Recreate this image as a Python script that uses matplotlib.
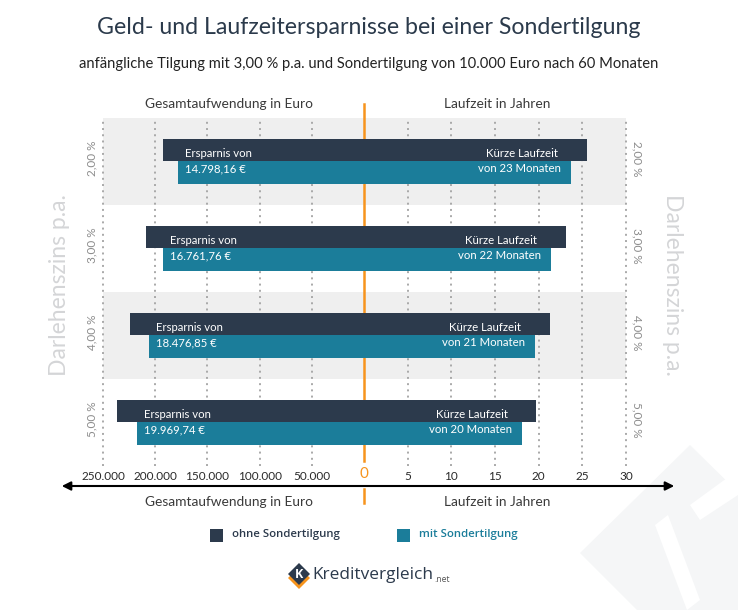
import matplotlib
matplotlib.use('Agg')
import matplotlib.pyplot as plt
from matplotlib.patches import Polygon, Rectangle, FancyArrowPatch
from matplotlib.lines import Line2D

# ---------------- data ----------------
rates = ['2,00 %', '3,00 %', '4,00 %', '5,00 %']
cost_ohne = [192700, 209100, 224100, 236900]   # Gesamtaufwendung ohne Sondertilgung (Euro)
cost_mit = [177900, 192200, 205600, 217100]    # Gesamtaufwendung mit Sondertilgung (Euro)
term_ohne = [25.57, 23.17, 21.25, 19.69]       # Laufzeit ohne Sondertilgung (Jahre)
term_mit = [23.70, 21.37, 19.53, 18.04]        # Laufzeit mit Sondertilgung (Jahre)
savings = ['14.798,16 €', '16.761,76 €', '18.476,85 €', '19.969,74 €']
months = [23, 22, 21, 20]
euro_ticks = [250000, 200000, 150000, 100000, 50000]
euro_labels = ['250.000', '200.000', '150.000', '100.000', '50.000']
year_ticks = [5, 10, 15, 20, 25, 30]
year_labels = ['5', '10', '15', '20', '25', '30']

# ---------------- style ----------------
FONT = 'Lato'
plt.rcParams['font.family'] = [FONT, 'DejaVu Sans']
DARK = '#2c3a4c'
TEAL = '#1b7d9a'
ORANGE = '#f7941d'
BAND = '#efefef'
GRID = '#a9a9a9'

W, H = 738, 610
def fx(px): return px / W
def fy(py): return 1 - py / H

fig = plt.figure(figsize=(W / 100, H / 100), dpi=100)
fig.patch.set_facecolor('white')

# watermark (faint logo, bottom right)
wm = Polygon([(fx(690), fy(445)), (fx(800), fy(553)), (fx(690), fy(663)), (fx(580), fy(553))],
             closed=True, transform=fig.transFigure, facecolor='#f5f6f7', edgecolor='none', zorder=-5)
fig.add_artist(wm)
wm2 = Polygon([(fx(655), fy(525)), (fx(668), fy(515)), (fx(700), fy(600)), (fx(687), fy(610))],
              closed=True, transform=fig.transFigure, facecolor='white', edgecolor='none', zorder=-4)
fig.add_artist(wm2)
wm3 = Polygon([(fx(690), fy(505)), (fx(738), fy(470)), (fx(738), fy(495)), (fx(700), fy(520))],
              closed=True, transform=fig.transFigure, facecolor='white', edgecolor='none', zorder=-4)
fig.add_artist(wm3)

top_px, bot_px = 117.7, 465.7
x0, xc, x1 = 103, 364, 626
axL = fig.add_axes([fx(x0), fy(bot_px), (xc - x0) / W, (bot_px - top_px) / H])
axR = fig.add_axes([fx(xc), fy(bot_px), (x1 - xc) / W, (bot_px - top_px) / H])

n = len(rates)
bh = 0.259
ypos = list(range(n))

for ax in (axL, axR):
    ax.set_facecolor('none')
    for s in ax.spines.values():
        s.set_visible(False)
    ax.set_ylim(n - 0.5, -0.5)
    ax.set_yticks([])
    ax.tick_params(axis='x', length=0, pad=3.5, labelsize=8.5, labelcolor='#2a2a2a')
    ax.set_axisbelow(True)

# grey bands spanning both halves (drawn in left axes)
for i in range(0, n, 2):
    axL.axhspan(i - 0.5, i + 0.5, xmin=0, xmax=(x1 - x0) / (xc - x0), color=BAND,
                zorder=0, lw=0, clip_on=False)

axL.set_xlim(250000, 0)
axR.set_xlim(0, 30)
axL.set_xticks(euro_ticks)
axL.set_xticklabels(euro_labels)
axR.set_xticks(year_ticks)
axR.set_xticklabels(year_labels)
for ax in (axL, axR):
    ax.xaxis.grid(True, color=GRID, lw=1.4, linestyle=(0, (1, 2.2)), zorder=0.5)
    for gl in ax.get_xgridlines():
        gl.set_clip_on(False)

# orange centre line (behind bars)
axL.axvline(0, ymin=(bot_px - 461) / (bot_px - top_px), ymax=(bot_px - 104) / (bot_px - top_px),
            color=ORANGE, lw=1.8, zorder=1.5, clip_on=False)

# bars
axL.barh([y - bh for y in ypos], cost_ohne, height=bh, align='edge', color=DARK, zorder=2)
axL.barh(ypos, cost_mit, height=bh, align='edge', color=TEAL, zorder=2)
axR.barh([y - bh for y in ypos], term_ohne, height=bh, align='edge', color=DARK, zorder=2)
axR.barh(ypos, term_mit, height=bh, align='edge', color=TEAL, zorder=2)

# bar texts
fs_bar = 8.2
for i in range(n):
    axL.annotate('Ersparnis von', xy=(cost_mit[i], i), xytext=(5, 5.4), textcoords='offset points',
                 ha='left', va='center', color='white', fontsize=fs_bar, zorder=3)
    axL.annotate(savings[i], xy=(cost_mit[i], i), xytext=(5, -5.6), textcoords='offset points',
                 ha='left', va='center', color='white', fontsize=fs_bar, zorder=3)
    axR.annotate('Kürze Laufzeit', xy=(term_mit[i], i), xytext=(-9.6, 5.4), textcoords='offset points',
                 ha='right', va='center', color='white', fontsize=fs_bar, zorder=3)
    axR.annotate(f'von {months[i]} Monaten', xy=(term_mit[i], i), xytext=(-7.2, -5.6),
                 textcoords='offset points', ha='right', va='center', color='white', fontsize=fs_bar, zorder=3)
    # row labels
    axL.annotate(rates[i], xy=(0, i), xycoords=('axes fraction', 'data'), xytext=(-8, 2),
                 textcoords='offset points', ha='center', va='center', rotation=90,
                 color='#8c8c8c', fontsize=8.5)
    axR.annotate(rates[i], xy=(1, i), xycoords=('axes fraction', 'data'), xytext=(8, 2),
                 textcoords='offset points', ha='center', va='center', rotation=270,
                 color='#8c8c8c', fontsize=8.5)

# titles
fig.text(0.5, fy(28), 'Geld- und Laufzeitersparnisse bei einer Sondertilgung', ha='center', va='center',
         fontsize=16.7, color='#2b3a4b')
fig.text(0.5, fy(64), 'anfängliche Tilgung mit 3,00 % p.a. und Sondertilgung von 10.000 Euro nach 60 Monaten',
         ha='center', va='center', fontsize=10.6, color='#222222')

for yy in (104, 502):
    fig.text(fx(229), fy(yy), 'Gesamtaufwendung in Euro', ha='center', va='center', fontsize=9.9, color='#3a3a3a')
    fig.text(fx(497), fy(yy), 'Laufzeit in Jahren', ha='center', va='center', fontsize=9.9, color='#3a3a3a')

# side labels
fig.text(fx(60), fy(285), 'Darlehenszins p.a.', rotation=90, ha='center', va='center',
         fontsize=16.5, color='#d4d5d7')
fig.text(fx(672), fy(285), 'Darlehenszins p.a.', rotation=270, ha='center', va='center',
         fontsize=16.5, color='#d4d5d7')

# orange zero + lower tick
fig.text(fx(364), fy(474), '0', ha='center', va='center', fontsize=11, color=ORANGE)
fig.add_artist(Line2D([fx(364), fx(364)], [fy(489), fy(503)], color=ORANGE, lw=1.8))

# double arrow axis
fig.add_artist(FancyArrowPatch((fx(59), fy(486)), (fx(677), fy(486)), transform=fig.transFigure,
                               arrowstyle='<|-|>', mutation_scale=13, lw=1.5, color='black'))

# legend
fig.add_artist(Rectangle((fx(210), fy(542)), 13 / W, 13 / H, transform=fig.transFigure,
                         facecolor=DARK, edgecolor='none'))
fig.text(fx(232), fy(535), 'ohne Sondertilgung', ha='left', va='center', fontsize=8.2,
         color=DARK, family='Open Sans', fontweight='semibold')
fig.add_artist(Rectangle((fx(397), fy(542)), 13 / W, 13 / H, transform=fig.transFigure,
                         facecolor=TEAL, edgecolor='none'))
fig.text(fx(419), fy(535), 'mit Sondertilgung', ha='left', va='center', fontsize=8.2,
         color=TEAL, family='Open Sans', fontweight='semibold')

# logo
cx, cy, r = 299, 574, 11
fig.add_artist(Polygon([(fx(cx), fy(cy - r + 4)), (fx(cx + r), fy(cy + 4)), (fx(cx), fy(cy + r + 4)),
                        (fx(cx - r), fy(cy + 4))], closed=True, transform=fig.transFigure,
                       facecolor=ORANGE, edgecolor='none'))
fig.add_artist(Polygon([(fx(cx), fy(cy - r)), (fx(cx + r), fy(cy)), (fx(cx), fy(cy + r)),
                        (fx(cx - r), fy(cy))], closed=True, transform=fig.transFigure,
                       facecolor=DARK, edgecolor='none'))
fig.text(fx(cx), fy(cy), 'K', ha='center', va='center', fontsize=9, color='white',
         family='Open Sans', fontweight='bold')
fig.text(fx(312), fy(575), 'Kreditvergleich', ha='left', va='center', fontsize=12.4,
         color=DARK, family='Open Sans')
fig.text(fx(434), fy(580), '.net', ha='left', va='center', fontsize=6.2, color='#555555',
         family='Open Sans')

fig.savefig('out.png', dpi=100, facecolor='white')
